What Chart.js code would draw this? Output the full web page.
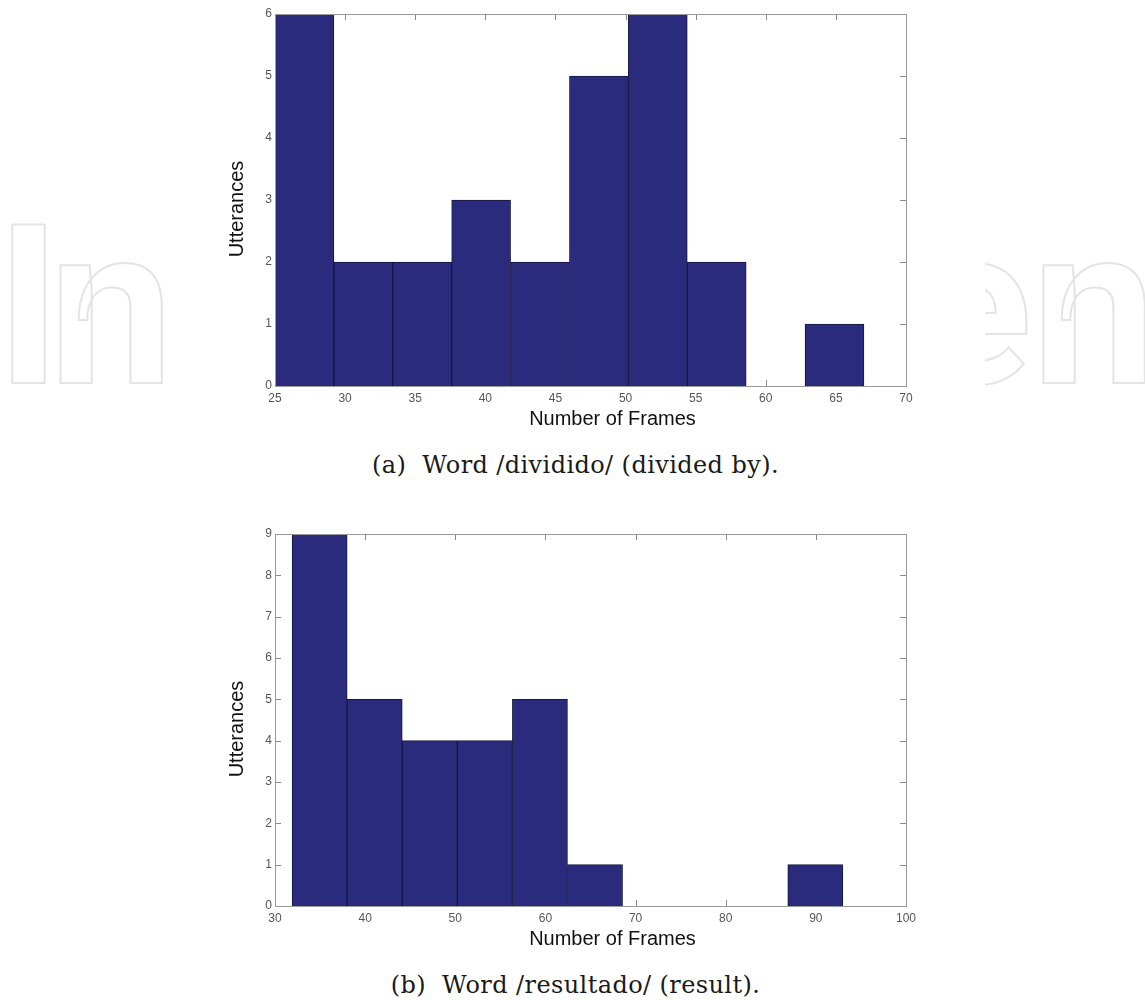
<!DOCTYPE html>
<html>
<head>
<meta charset="utf-8">
<script src="https://cdn.jsdelivr.net/npm/chart.js@4.4.0/dist/chart.umd.min.js"></script>
<style>
  html, body { margin: 0; padding: 0; background: #fff; }
  #page { position: relative; width: 1145px; height: 1000px; overflow: hidden; background: #fff; }
  .mark {
    position: absolute; top: 196px;
    font-family: Roboto, sans-serif; font-weight: 700; font-size: 222px; line-height: 1;
    color: transparent; -webkit-text-stroke: 2px #e4e4e4; white-space: nowrap;
  }
  .plot { position: absolute; left: 175px; width: 810px; height: 450px; background: #fff; }
  .caption {
    position: absolute; left: 3px; width: 1145px; text-align: center;
    font-family: "DejaVu Serif", serif; font-size: 24px; line-height: 28px; color: #1a1a1a;
    letter-spacing: 0.4px;
  }
</style>
</head>
<body>
<div id="page">
  <div class="mark" id="markL" style="left:-4px; letter-spacing:-12px">In</div>
  <div class="mark" id="markR" style="left:912px">en</div>
  <div class="plot" style="top:0"><canvas id="chartA" width="810" height="450"></canvas></div>
  <div class="caption" style="top:451px">(a)&nbsp; Word /dividido/ (divided by).</div>
  <div class="plot" style="top:520px"><canvas id="chartB" width="810" height="450"></canvas></div>
  <div class="caption" style="top:971px">(b)&nbsp; Word /resultado/ (result).</div>
</div>
<script>
// (a) /dividido/ histogram
const binCentersA = [27.1, 31.3, 35.5, 39.7, 43.9, 48.1, 52.3, 56.5, 60.7, 64.9];
const countsA = [6, 2, 2, 3, 2, 5, 6, 2, 0, 1];
const xTicksA = [25, 30, 35, 40, 45, 50, 55, 60, 65, 70];
const yTicksA = [0, 1, 2, 3, 4, 5, 6];

// (b) /resultado/ histogram
const binCentersB = [34.95, 41.06, 47.17, 53.28, 59.39, 65.5, 71.61, 77.72, 83.83, 89.94];
const countsB = [9, 5, 4, 4, 5, 1, 0, 0, 0, 1];
const xTicksB = [30, 40, 50, 60, 70, 80, 90, 100];
const yTicksB = [0, 1, 2, 3, 4, 5, 6, 7, 8, 9];

const xTitle = 'Number of Frames';
const yTitle = 'Utterances';

// matlab style: box around the axes, ticks pointing inwards
const matlabAxes = {
  id: 'matlabAxes',
  beforeDatasetsDraw(chart) {
    const { ctx, chartArea: a, scales: { x, y } } = chart;
    const len = 6;
    ctx.save();
    ctx.strokeStyle = '#8a8a8a';
    ctx.lineWidth = 1;
    ctx.beginPath();
    x.ticks.forEach(t => {
      const px = Math.round(x.getPixelForValue(t.value)) + 0.5;
      ctx.moveTo(px, a.bottom); ctx.lineTo(px, a.bottom - len);
      ctx.moveTo(px, a.top); ctx.lineTo(px, a.top + len);
    });
    y.ticks.forEach(t => {
      const py = Math.round(y.getPixelForValue(t.value)) + 0.5;
      ctx.moveTo(a.left, py); ctx.lineTo(a.left + len, py);
      ctx.moveTo(a.right, py); ctx.lineTo(a.right - len, py);
    });
    ctx.stroke();
    ctx.restore();
  },
  afterDatasetsDraw(chart) {
    const { ctx, chartArea: a } = chart;
    ctx.save();
    ctx.strokeStyle = '#999';
    ctx.lineWidth = 1;
    ctx.strokeRect(Math.round(a.left) + 0.5, Math.round(a.top) + 0.5,
      Math.round(a.right - a.left), Math.round(a.bottom - a.top));
    // axis titles
    ctx.fillStyle = '#111';
    ctx.font = '20px "Liberation Sans", Arial, sans-serif';
    ctx.textAlign = 'center';
    ctx.textBaseline = 'middle';
    const cx = (a.left + a.right) / 2, cy = (a.top + a.bottom) / 2;
    ctx.fillText(xTitle, cx + 22, a.bottom + 33);
    ctx.translate(a.left - 38, cy + 9);
    ctx.rotate(-Math.PI / 2);
    ctx.fillText(yTitle, 0, 0);
    ctx.restore();
  }
};

function makeHist(id, centers, counts, xTicks, yTicks) {
  const tickFont = { family: '"Liberation Sans", Arial, sans-serif', size: 12 };
  return new Chart(document.getElementById(id), {
    type: 'bar',
    data: {
      datasets: [{
        data: centers.map((c, i) => ({ x: c, y: counts[i] })),
        backgroundColor: '#2b2b7d',
        borderColor: '#17173f',
        borderWidth: 1,
        barPercentage: 1,
        categoryPercentage: 1
      }]
    },
    options: {
      responsive: false,
      animation: false,
      layout: { padding: { top: 14, right: 79, bottom: 0, left: 0 } },
      plugins: { legend: { display: false }, tooltip: { enabled: false } },
      scales: {
        x: {
          type: 'linear',
          offset: false,
          min: xTicks[0],
          max: xTicks[xTicks.length - 1],
          afterBuildTicks: s => { s.ticks = xTicks.map(v => ({ value: v })); },
          afterFit: s => { s.height = 64; },
          grid: { display: false, drawTicks: false },
          border: { display: false },
          ticks: { color: '#555', font: tickFont, padding: 5, maxRotation: 0, autoSkip: false }
        },
        y: {
          min: yTicks[0],
          max: yTicks[yTicks.length - 1],
          afterBuildTicks: s => { s.ticks = yTicks.map(v => ({ value: v })); },
          afterFit: s => { s.width = 100; },
          grid: { display: false, drawTicks: false },
          border: { display: false },
          ticks: { color: '#555', font: tickFont, padding: 3 }
        }
      }
    },
    plugins: [matlabAxes]
  });
}

makeHist('chartA', binCentersA, countsA, xTicksA, yTicksA);
makeHist('chartB', binCentersB, countsB, xTicksB, yTicksB);
</script>
</body>
</html>
